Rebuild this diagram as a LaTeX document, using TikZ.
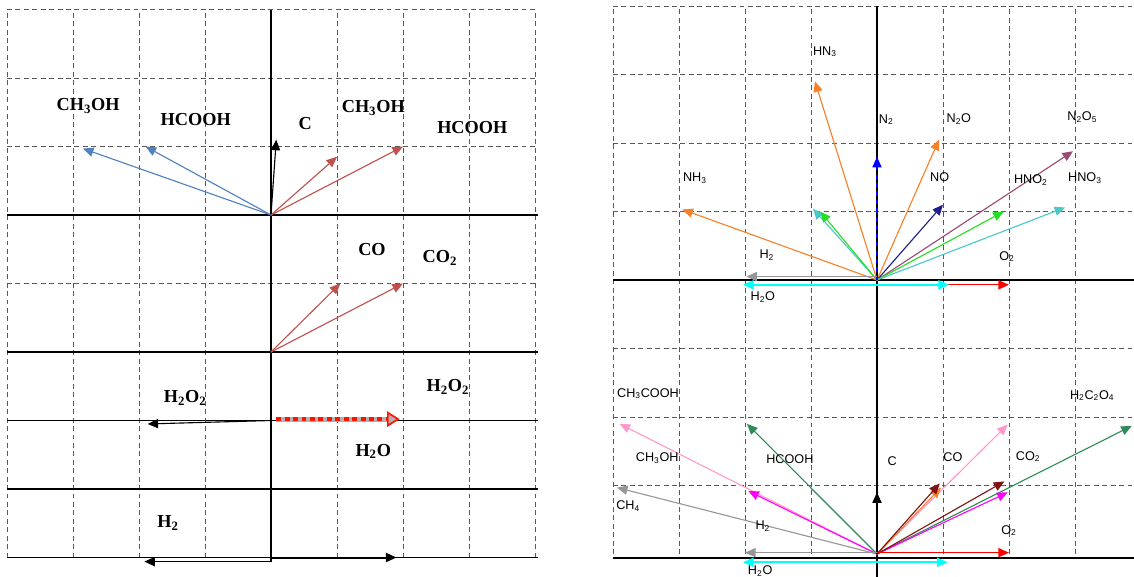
\documentclass[tikz,border=0pt]{standalone}
\usepackage{fontspec}
\setmainfont{Liberation Serif}
\setsansfont{Liberation Sans}
\usetikzlibrary{arrows.meta}

\definecolor{vblue}{RGB}{79,129,189}
\definecolor{vred}{RGB}{192,80,77}
\definecolor{vorange}{RGB}{247,128,40}
\definecolor{vnblue}{RGB}{0,0,255}
\definecolor{vnavy}{RGB}{31,31,140}
\definecolor{vmauve}{RGB}{155,75,120}
\definecolor{vgreen}{RGB}{34,224,34}
\definecolor{vteal}{RGB}{75,200,200}
\definecolor{vcyan}{RGB}{0,255,255}
\definecolor{vgray}{RGB}{150,150,150}
\definecolor{vpink}{RGB}{255,153,204}
\definecolor{vsea}{RGB}{46,139,87}
\definecolor{vmaroon}{RGB}{128,20,20}
\definecolor{vmagenta}{RGB}{255,0,255}

\tikzset{
  gridline/.style={draw=black!65, line width=0.6pt, dash pattern=on 3.5pt off 2.5pt},
  axisline/.style={draw=black, line width=1pt},
  vec/.style={-{Triangle[length=7.5pt,width=6.5pt]}, line width=0.8pt},
  vecboth/.style={{Triangle[length=7.5pt,width=6.5pt]}-{Triangle[length=7.5pt,width=6.5pt]}, line width=1.2pt},
  boldlbl/.style={font=\fontsize{13}{15}\selectfont\bfseries, inner sep=0pt},
  smalllbl/.style={font=\sffamily\fontsize{9}{11}\selectfont, inner sep=0pt}
}

\begin{document}
\begin{tikzpicture}[x=1.65cm, y=1.7125cm]
\useasboundingbox (-4.106,-5.270) rectangle (13.076,3.139);

% Left panel: grid and axes
\foreach \x in {-4,...,4}
  \draw[gridline] (\x,-5) -- (\x,3);
\foreach \y in {-5,...,3}
  \draw[gridline] (-4,\y) -- (4,\y);
\foreach \y in {0,-2,-3,-4,-5}
  \draw[axisline] (-4,\y) -- (4.05,\y);
\draw[axisline] (0,3) -- (0,-5);

\coordinate (oA) at (0,0);
\coordinate (oB) at (0,-2);
\coordinate (oC) at (0,-3);
\coordinate (oD) at (0,-5);

% Left panel: vectors
\foreach \dx/\dy in {-2.85/0.97, -1.9/1}
  \draw[vec, vblue] (oA) -- ++(\dx,\dy);
\draw[vec, black] (oA) -- ++(0.08,1.1);
\foreach \dx/\dy in {1/0.85, 2/1}
  \draw[vec, vred] (oA) -- ++(\dx,\dy);
\foreach \dx/\dy in {1.05/1, 2/1}
  \draw[vec, vred] (oB) -- ++(\dx,\dy);

\draw[vec, black] (oC) -- ++(-1.87,-0.05);
\draw[line width=3.4pt, black!30] (oC) ++(0.08,0.02) -- ++(1.75,0);
\draw[line width=3pt, red!85!orange, dash pattern=on 3.5pt off 2.5pt,
  -{Triangle[open, length=9pt, width=11pt, line width=1.2pt, fill=black!30]}]
  (oC) ++(0.08,0.02) -- ++(1.87,0);

\draw[vec, black] (oD) -- ++(0,-0.06) -- ++(-1.92,0);
\draw[vec, black, line width=1.4pt] (oD) -- ++(1.9,0);

% Left panel: labels
\node[boldlbl] (lmeoh) at (-2.77,1.59) {CH\textsubscript{3}OH};
\node[boldlbl] (lfa) at (-1.14,1.40) {HCOOH};
\node[boldlbl] (lc) at (0.52,1.33) {C};
\node[boldlbl] (rmeoh) at (1.55,1.56) {CH\textsubscript{3}OH};
\node[boldlbl] (rfa) at (3.05,1.27) {HCOOH};
\node[boldlbl] (rco) at (1.53,-0.51) {CO};
\node[boldlbl] (rcoo) at (2.56,-0.63) {CO\textsubscript{2}};
\node[boldlbl] (lhoo) at (-1.30,-2.67) {H\textsubscript{2}O\textsubscript{2}};
\node[boldlbl] (rhoo) at (2.68,-2.51) {H\textsubscript{2}O\textsubscript{2}};
\node[boldlbl] (rho) at (1.55,-3.45) {H\textsubscript{2}O};
\node[boldlbl] (lhh) at (-1.56,-4.50) {H\textsubscript{2}};

% Right panel
\begin{scope}[shift={(9.182,-0.949)}]
  \foreach \x in {-4,...,3}
    \draw[gridline] (\x,-4) -- (\x,4);
  \foreach \y in {-3,...,4}
    \draw[gridline] (-4,\y) -- (3.9,\y);
  \draw[axisline] (-4,0) -- (3.9,0);
  \draw[axisline] (-4,-4.06) -- (3.9,-4.06);
  \draw[axisline] (0,4) -- (0,-4.35);

  \coordinate (oR) at (0,0);
  \coordinate (oS) at (0,-4);

  % nitrogen species
  \foreach \dx/\dy/\c in {-2.95/1.03/vorange, -0.94/2.9/vorange, 0.94/2.05/vorange,
      -0.97/1.04/vteal, -0.86/1/vgreen, 1/1.1/vnavy, 2.97/1.88/vmauve,
      1.92/1/vgreen, 2.85/1.06/vteal}
    \draw[vec, \c] (oR) -- ++(\dx,\dy);
  \draw[vec, vnblue, dashed] (oR) -- ++(0,1.8);
  \draw[vec, vgray] (oR) ++(0,0.05) -- ++(-1.98,0);
  \draw[vec, red] (oR) ++(0,-0.07) -- ++(2,0);
  \draw[vecboth, vcyan] (oR) ++(-2.03,-0.07) -- ++(3.12,0);

  \node[smalllbl] (hnnn) at (-0.79,3.33) {HN\textsubscript{3}};
  \node[smalllbl] (nn) at (0.14,2.34) {N\textsubscript{2}};
  \node[smalllbl] (nno) at (1.24,2.35) {N\textsubscript{2}O};
  \node[smalllbl] (no) at (0.95,1.50) {NO};
  \node[smalllbl] (nnooo) at (3.11,2.38) {N\textsubscript{2}O\textsubscript{5}};
  \node[smalllbl] (hnoo) at (2.33,1.46) {HNO\textsubscript{2}};
  \node[smalllbl] (hnooo) at (3.15,1.49) {HNO\textsubscript{3}};
  \node[smalllbl] (nhhh) at (-2.76,1.49) {NH\textsubscript{3}};
  \node[smalllbl] (thh) at (-1.67,0.36) {H\textsubscript{2}};
  \node[smalllbl] (tho) at (-1.73,-0.25) {H\textsubscript{2}O};
  \node[smalllbl] (too) at (1.97,0.34) {O\textsubscript{2}};

  % carbon species
  \foreach \dx/\dy/\c in {-3.94/0.97/vgray, -3.9/1.9/vpink, -1.97/1.9/vsea,
      -1.95/0.92/vmagenta, 1.98/1.89/vpink, 3.86/1.87/vsea, 0.97/0.97/vorange,
      0.95/1.03/vmaroon, 1.98/0.9/vmagenta, 1.93/1.06/vmaroon}
    \draw[vec, \c] (oS) -- ++(\dx,\dy);
  \draw[vec, black, line width=1.1pt] (oS) -- ++(0,0.9);
  \draw[vec, vgray] (oS) ++(0,0.02) -- ++(-2,0);
  \draw[vec, red] (oS) ++(0,0.02) -- ++(2,0);
  \draw[vecboth, vcyan] (oS) ++(-2.03,-0.12) -- ++(3.1,0);

  \node[smalllbl] (acoh) at (-3.47,-1.66) {CH\textsubscript{3}COOH};
  \node[smalllbl] (meoh) at (-3.33,-2.60) {CH\textsubscript{3}OH};
  \node[smalllbl] (fa) at (-1.32,-2.61) {HCOOH};
  \node[smalllbl] (ch) at (-3.77,-3.30) {CH\textsubscript{4}};
  \node[smalllbl] (bhh) at (-1.73,-3.59) {H\textsubscript{2}};
  \node[smalllbl] (bc) at (0.23,-2.64) {C};
  \node[smalllbl] (bco) at (1.15,-2.58) {CO};
  \node[smalllbl] (bcoo) at (2.29,-2.58) {CO\textsubscript{2}};
  \node[smalllbl] (ox) at (3.26,-1.69) {H\textsubscript{2}C\textsubscript{2}O\textsubscript{4}};
  \node[smalllbl] (boo) at (2.0,-3.66) {O\textsubscript{2}};
  \node[smalllbl] (bho) at (-1.77,-4.25) {H\textsubscript{2}O};
\end{scope}
\end{tikzpicture}
\end{document}
